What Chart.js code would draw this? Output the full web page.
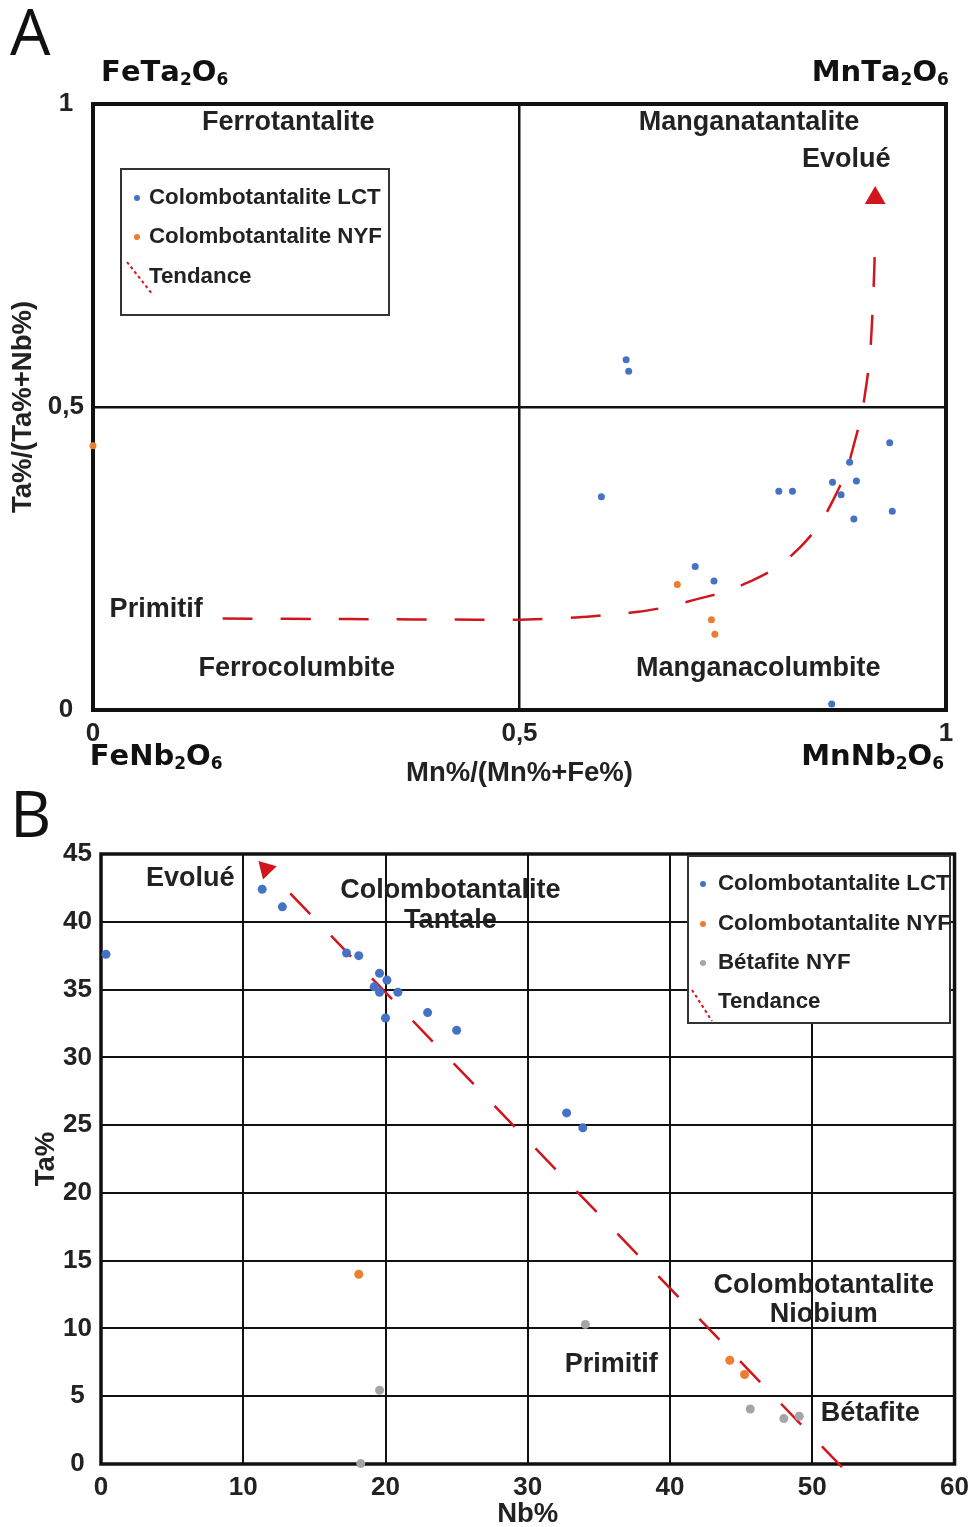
<!DOCTYPE html>
<html>
<head>
<meta charset="utf-8">
<script src="https://cdn.jsdelivr.net/npm/chart.js@4"></script>
<style>
  body { margin: 0; background: #fff; width: 977px; height: 1527px; position: relative; overflow: hidden; }
  .panel { position: absolute; left: 0; width: 977px; }
  #wrapA { top: 0; height: 790px; }
  #wrapB { top: 790px; height: 737px; }
  .letter { position: absolute; font-family: "Open Sans", sans-serif; font-size: 64px; color: #111; line-height: 1; }
</style>
</head>
<body>
<div class="panel" id="wrapA"><canvas id="chartA" width="977" height="790"></canvas></div>
<div class="panel" id="wrapB"><canvas id="chartB" width="977" height="737"></canvas></div>
<div class="letter" style="left:10px;top:-1px">A</div>
<div class="letter" style="left:10px;top:781px">B</div>
<script>
// ---- Panel A : Mn/(Mn+Fe) vs Ta/(Ta+Nb) ----
const lctA_x = [0.625, 0.628, 0.596, 0.804, 0.820, 0.867, 0.887, 0.895, 0.877, 0.892, 0.934, 0.937, 0.706, 0.728, 0.866];
const lctA_y = [0.578, 0.559, 0.352, 0.361, 0.361, 0.376, 0.409, 0.378, 0.355, 0.315, 0.441, 0.328, 0.237, 0.213, 0.010];
const nyfA_x = [0.0, 0.685, 0.725, 0.729];
const nyfA_y = [0.436, 0.207, 0.149, 0.125];
// trend curve
const trendA_x = [0.152, 0.30, 0.45, 0.50, 0.57, 0.604, 0.639, 0.673, 0.708, 0.741, 0.775, 0.803, 0.830, 0.852, 0.869, 0.883, 0.893, 0.901, 0.907, 0.911, 0.914, 0.916, 0.917];
const trendA_y = [0.151, 0.150, 0.149, 0.149, 0.153, 0.157, 0.162, 0.170, 0.183, 0.195, 0.215, 0.236, 0.270, 0.306, 0.350, 0.393, 0.443, 0.487, 0.540, 0.586, 0.660, 0.730, 0.790];
const arrowA = [0.917, 0.845];
const ticksA = [0, 0.5, 1];

const zonesA = [
  ['Ferrotantalite', 0.229, 0.970],
  ['Manganatantalite', 0.769, 0.970],
  ['Evolué', 0.883, 0.908],
  ['Primitif', 0.074, 0.165],
  ['Ferrocolumbite', 0.239, 0.069],
  ['Manganacolumbite', 0.780, 0.069]
];
const formulasA = [
  ['FeTa₂O₆', 0.084, 1.051],
  ['MnTa₂O₆', 0.923, 1.051],
  ['FeNb₂O₆', 0.074, -0.078],
  ['MnNb₂O₆', 0.914, -0.078]
];

// ---- Panel B : Nb% vs Ta% ----
const lctB_x = [0.35, 11.33, 12.75, 17.26, 18.12, 19.58, 20.1, 19.2, 19.58, 20.87, 20.0, 22.96, 25.0, 32.73, 33.87];
const lctB_y = [37.6, 42.4, 41.1, 37.7, 37.5, 36.2, 35.7, 35.2, 34.8, 34.8, 32.9, 33.3, 32.0, 25.9, 24.8];
const nyfB_x = [18.12, 44.2, 45.24];
const nyfB_y = [14.0, 7.65, 6.6];
const betB_x = [19.58, 18.26, 34.05, 45.64, 48.0, 49.08];
const betB_y = [5.44, 0.03, 10.3, 4.06, 3.35, 3.52];
const trendB_x = [13.3, 52.15];
const trendB_y = [42.1, -0.3];
const arrowB = [11.6, 43.9];

const zonesB = [
  ['Evolué', 6.28, 43.2],
  ['Colombotantalite', 24.56, 42.3],
  ['Tantale', 24.56, 40.1],
  ['Colombotantalite', 50.8, 13.2],
  ['Niobium', 50.8, 11.0],
  ['Primitif', 35.87, 7.36],
  ['Bétafite', 54.08, 3.74]
];

const BLUE = '#4472c4', ORANGE = '#ed7d31', GREY = '#a5a5a5', RED = '#d0151d', INK = '#222';
const SANS = '"Liberation Sans", Arial, sans-serif';
const SUBS = { '₂': '2', '₆': '6' };

const pts = (xs, ys) => xs.map((x, i) => ({ x: x, y: ys[i] }));

// chemical formula with smaller, lowered subscript digits
function drawFormula(ctx, text, cx, cy) {
  const big = 'bold 29px "DejaVu Sans", Verdana, sans-serif';
  const small = 'bold 17px "DejaVu Sans", Verdana, sans-serif';
  const parts = [...text].map(ch => SUBS[ch] ? { t: SUBS[ch], f: small, dy: 7 } : { t: ch, f: big, dy: 0 });
  let w = 0;
  parts.forEach(p => { ctx.font = p.f; p.w = ctx.measureText(p.t).width; w += p.w; });
  let x = cx - w / 2;
  parts.forEach(p => { ctx.font = p.f; ctx.fillText(p.t, x, cy + p.dy); x += p.w; });
}

// frame, zone labels and boxed legend
const decor = {
  id: 'decor',
  beforeDatasetsDraw(chart, args, opts) {
    const { ctx, chartArea: a, scales: { x, y } } = chart;
    ctx.save();
    ctx.strokeStyle = '#111';
    ctx.lineWidth = opts.frame;
    ctx.strokeRect(a.left, a.top, a.right - a.left, a.bottom - a.top);
    ctx.fillStyle = INK;
    ctx.textAlign = 'center';
    ctx.textBaseline = 'middle';
    (opts.groups || []).forEach(g => {
      ctx.font = g.font;
      g.items.forEach(t => ctx.fillText(t[0], x.getPixelForValue(t[1]), y.getPixelForValue(t[2])));
    });
    ctx.restore();
  },
  afterDatasetsDraw(chart, args, opts) {
    const L = opts.legend;
    if (!L) return;
    const { ctx, chartArea: a } = chart;
    const bx = a.left + L.dx, by = a.top + L.dy;
    ctx.save();
    ctx.fillStyle = '#fff';
    ctx.fillRect(bx, by, L.w, L.h);
    ctx.strokeStyle = '#333';
    ctx.lineWidth = 2;
    ctx.strokeRect(bx, by, L.w, L.h);
    ctx.font = 'bold 22.3px ' + SANS;
    ctx.textBaseline = 'middle';
    ctx.textAlign = 'left';
    const items = chart.data.datasets.filter(d => d.label);
    items.forEach((d, i) => {
      const ry = by + L.rows[i];
      if (d.showLine) {
        ctx.strokeStyle = d.borderColor;
        ctx.lineWidth = 2;
        ctx.setLineDash([3, 3]);
        ctx.beginPath();
        ctx.moveTo(bx + L.mark[0], by + L.mark[1]);
        ctx.lineTo(bx + L.mark[2], by + L.mark[3]);
        ctx.stroke();
        ctx.setLineDash([]);
      } else {
        ctx.fillStyle = d.backgroundColor;
        ctx.beginPath();
        ctx.arc(bx + L.dot, ry, 3, 0, Math.PI * 2);
        ctx.fill();
      }
      ctx.fillStyle = INK;
      ctx.fillText(d.label, bx + L.text, ry);
    });
    ctx.restore();
  },
  afterDraw(chart, args, opts) {
    if (!opts.formulas) return;
    const { ctx, scales: { x, y } } = chart;
    ctx.save();
    ctx.fillStyle = '#111';
    ctx.textAlign = 'left';
    ctx.textBaseline = 'middle';
    opts.formulas.forEach(t => drawFormula(ctx, t[0], x.getPixelForValue(t[1]), y.getPixelForValue(t[2])));
    ctx.restore();
  }
};

const dots = (label, data, color, r) => ({
  label: label, data: data, backgroundColor: color, borderWidth: 0,
  pointRadius: r, pointHoverRadius: r, showLine: false, clip: false
});
const trend = (data, dash) => ({
  label: 'Tendance', data: data, showLine: true, borderColor: RED, borderWidth: 2.5,
  borderDash: dash, pointRadius: 0, tension: 0.2, fill: false, clip: false
});
const arrow = (xy, rot, r) => ({
  data: [{ x: xy[0], y: xy[1] }], pointStyle: 'triangle', pointRadius: r, pointRotation: rot,
  backgroundColor: RED, borderColor: RED, borderWidth: 0, showLine: false, clip: false
});
const tickFont = { family: SANS, size: 26, weight: 'bold' };
const titleFont = { family: SANS, size: 27.5, weight: 'bold' };
const zoneFont = 'bold 27px ' + SANS;

new Chart(document.getElementById('chartA'), {
  type: 'scatter',
  data: {
    datasets: [
      dots('Colombotantalite LCT', pts(lctA_x, lctA_y), BLUE, 3.5),
      dots('Colombotantalite NYF', pts(nyfA_x, nyfA_y), ORANGE, 3.5),
      trend(pts(trendA_x, trendA_y), [30, 28]),
      arrow(arrowA, 0, 12)
    ]
  },
  options: {
    responsive: false, animation: false, events: [],
    layout: { padding: { top: 104, right: 31, left: 0, bottom: 0 } },
    scales: {
      x: {
        type: 'linear', min: 0, max: 1,
        afterBuildTicks: s => { s.ticks = ticksA.map(v => ({ value: v })); },
        afterFit: s => { s.height = 80; },
        border: { display: false },
        grid: { drawTicks: false, lineWidth: 2.5, color: c => c.tick && c.tick.value === 0.5 ? '#111' : 'transparent' },
        ticks: { padding: 8, color: INK, font: tickFont, maxRotation: 0, callback: v => String(v).replace('.', ',') },
        title: { display: true, text: 'Mn%/(Mn%+Fe%)', color: INK, font: titleFont, padding: { top: 0, bottom: 0 } }
      },
      y: {
        type: 'linear', min: 0, max: 1,
        afterBuildTicks: s => { s.ticks = ticksA.map(v => ({ value: v })); },
        afterFit: s => { s.width = 93; },
        border: { display: false },
        grid: { drawTicks: false, lineWidth: 2.5, color: c => c.tick && c.tick.value === 0.5 ? '#111' : 'transparent' },
        ticks: { padding: 9, crossAlign: 'center', color: INK, font: tickFont, callback: v => String(v).replace('.', ',') },
        title: { display: true, text: 'Ta%/(Ta%+Nb%)', color: INK, font: titleFont, padding: { top: 7, bottom: 0 } }
      }
    },
    plugins: {
      legend: { display: false },
      tooltip: { enabled: false },
      decor: {
        frame: 4,
        groups: [{ font: zoneFont, items: zonesA }],
        formulas: formulasA,
        legend: { dx: 28, dy: 65, w: 268, h: 146, rows: [29, 68, 108], dot: 16, text: 28, mark: [6, 93, 32, 126] }
      }
    }
  },
  plugins: [decor]
});

new Chart(document.getElementById('chartB'), {
  type: 'scatter',
  data: {
    datasets: [
      dots('Colombotantalite LCT', pts(lctB_x, lctB_y), BLUE, 4.5),
      dots('Colombotantalite NYF', pts(nyfB_x, nyfB_y), ORANGE, 4.5),
      dots('Bétafite NYF', pts(betB_x, betB_y), GREY, 4.5),
      trend(pts(trendB_x, trendB_y), [29, 30]),
      arrow(arrowB, -44, 11)
    ]
  },
  options: {
    responsive: false, animation: false, events: [],
    layout: { padding: { top: 64, right: 16, left: 0, bottom: 0 } },
    scales: {
      x: {
        type: 'linear', min: 0, max: 60,
        afterFit: s => { s.height = 63; },
        border: { display: false },
        grid: { drawTicks: false, lineWidth: 2, color: '#111' },
        ticks: { stepSize: 10, padding: 8, color: INK, font: tickFont, maxRotation: 0 },
        title: { display: true, text: 'Nb%', color: INK, font: titleFont, padding: { top: 0, bottom: -4 } }
      },
      y: {
        type: 'linear', min: 0, max: 45,
        afterFit: s => { s.width = 101; },
        border: { display: false },
        grid: { drawTicks: false, lineWidth: 2, color: '#111' },
        ticks: { stepSize: 5, padding: 9, crossAlign: 'center', color: INK, font: tickFont },
        title: { display: true, text: 'Ta%', color: INK, font: titleFont, padding: { top: 30, bottom: 0 } }
      }
    },
    plugins: {
      legend: { display: false },
      tooltip: { enabled: false },
      decor: {
        frame: 3.5,
        groups: [{ font: zoneFont, items: zonesB }],
        legend: { dx: 587, dy: 2, w: 262, h: 167, rows: [28, 68, 107, 146], dot: 15, text: 30, mark: [4, 134, 24, 165] }
      }
    }
  },
  plugins: [decor]
});
</script>
</body>
</html>
